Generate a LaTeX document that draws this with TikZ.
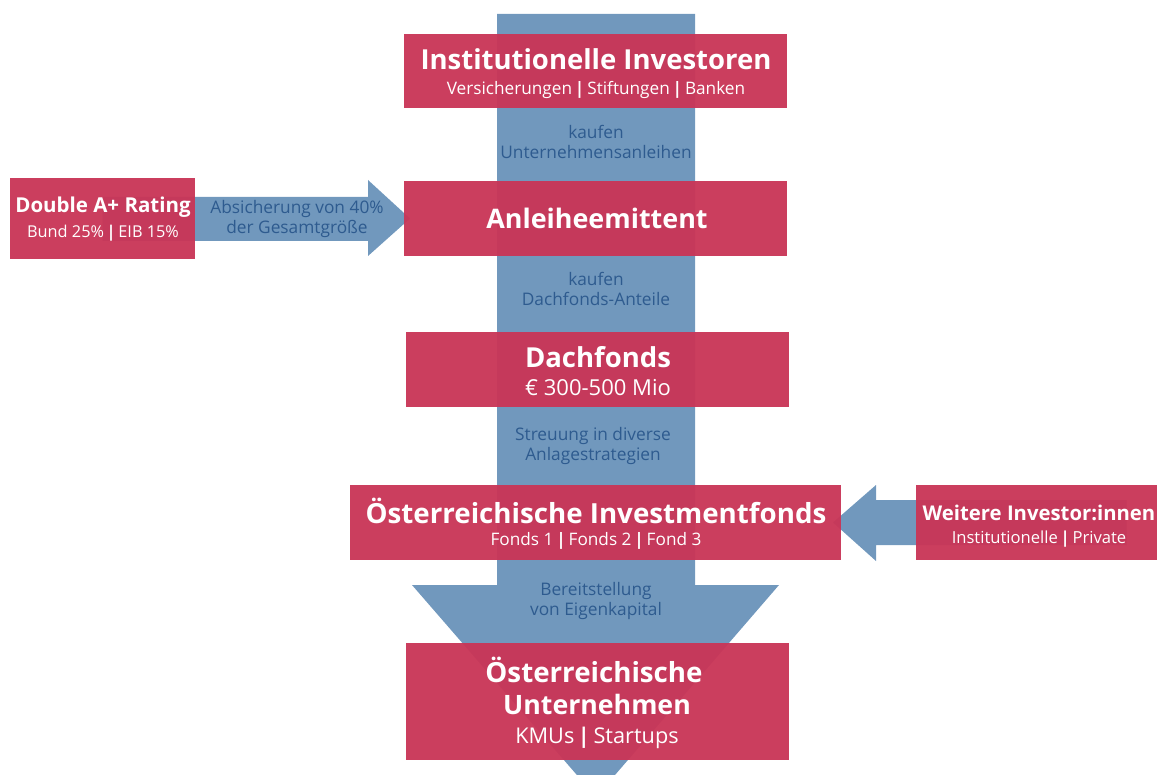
\documentclass[tikz,border=0pt]{standalone}
\usepackage{fontspec}
\setmainfont{Open Sans}
\usetikzlibrary{calc}
\definecolor{boxred}{HTML}{C93657}
\definecolor{flowblue}{HTML}{7198BD}
\definecolor{labelblue}{HTML}{2E5B8F}
\tikzset{
  ttl/.style={text=white, font=\bfseries\fontsize{#1}{#1}\selectfont, inner sep=0pt, anchor=center},
  sub/.style={text=white, font=\fontsize{#1}{#1}\selectfont, inner sep=0pt, anchor=center},
  flowlabel/.style={text=labelblue, font=\fontsize{17.3}{20}\selectfont, align=center, inner sep=0pt, anchor=center},
  flow/.style={fill=flowblue, draw=none},
  boxgeom/.style={inner sep=0pt, outer sep=0pt}
}
\newcommand{\sep}{\,{\bfseries|}\,}
\begin{document}
\begin{tikzpicture}[x=1pt,y=-1pt]
\useasboundingbox (0,0) rectangle (1157,775);
\clip (0,0) rectangle (1157,775);
% red box nodes (geometry only)
\node[boxgeom, minimum width=383pt, minimum height=74pt] (inst) at (595.5,71) {};
\node[boxgeom, minimum width=383pt, minimum height=75pt] (anl) at (595.5,218.5) {};
\node[boxgeom, minimum width=383pt, minimum height=75pt] (dach) at (597.5,369.5) {};
\node[boxgeom, minimum width=491pt, minimum height=75pt] (inv) at (595.5,522.5) {};
\node[boxgeom, minimum width=383pt, minimum height=117pt] (unt) at (597.5,701.5) {};
\node[boxgeom, minimum width=185pt, minimum height=81pt] (dbl) at (102.5,218.5) {};
\node[boxgeom, minimum width=241pt, minimum height=75pt] (wei) at (1036.5,522.5) {};
% main downward flow
\fill[flow] (497,14) -- (695,14) -- (695,585) -- (779,585) -- (596,797) -- (412,585) -- (497,585) -- cycle;
% arrow Double A+ -> Anleiheemittent
\fill[flow] ($(dbl.center)+(0,-21.5)$) -- (368,197) -- (368,180) -- ($(anl.west)+(6,0)$) -- (368,256) -- (368,241) -- ($(dbl.center)+(0,22.5)$) -- cycle;
% arrow Weitere -> Investmentfonds
\fill[flow] ($(wei.center)+(90,-22.5)$) -- (876,500) -- (876,485) -- ($(inv.east)+(-8,0)$) -- (876,561) -- (876,545) -- ($(wei.center)+(90,22.5)$) -- cycle;
% red boxes
\foreach \n in {inst,anl,dach,inv,unt,dbl,wei}{
  \fill[boxred, fill opacity=0.96] (\n.north west) rectangle (\n.south east);
}
% texts
\node[ttl=27.5] (instT) at (596,59) {Institutionelle Investoren};
\node[sub=17.2] (instS) at (596,89.5) {Versicherungen\sep Stiftungen\sep Banken};
\node[ttl=26.9] (anlT) at (597,218) {Anleiheemittent};
\node[ttl=27.5] (dachT) at (598,357) {Dachfonds};
\node[sub=22] (dachS) at (598,387.5) {€ 300-500 Mio};
\node[ttl=27.7] (invT) at (596,511) {Österreichische Investmentfonds};
\node[sub=17.2] (invS) at (596,541) {Fonds 1\sep Fonds 2\sep Fond 3};
\node[ttl=27.7] (untT1) at (594,670) {Österreichische};
\node[ttl=26.7] (untT2) at (597,704) {Unternehmen};
\node[sub=21.7] (untS) at (597,738) {KMUs\sep Startups};
\node[ttl=20.5] (dblT) at (103,207) {Double A+ Rating};
\node[sub=16.3] (dblS) at (103,233) {Bund 25\%\sep EIB 15\%};
\node[ttl=20.3] (weiT) at (1039,513) {Weitere Investor:innen};
\node[sub=16.6] (weiS) at (1039,539) {Institutionelle\sep Private};
% flow labels
\node[flowlabel] (l1) at (596,142) {kaufen\\Unternehmensanleihen};
\node[flowlabel] (l2) at (596,289) {kaufen\\Dachfonds-Anteile};
\node[flowlabel] (l3) at (593,446) {Streuung in diverse\\Anlagestrategien};
\node[flowlabel] (l4) at (596,601) {Bereitstellung\\von Eigenkapital};
\node[flowlabel] (l5) at (297,219) {Absicherung von 40\%\\der Gesamtgröße};
\end{tikzpicture}
\end{document}
